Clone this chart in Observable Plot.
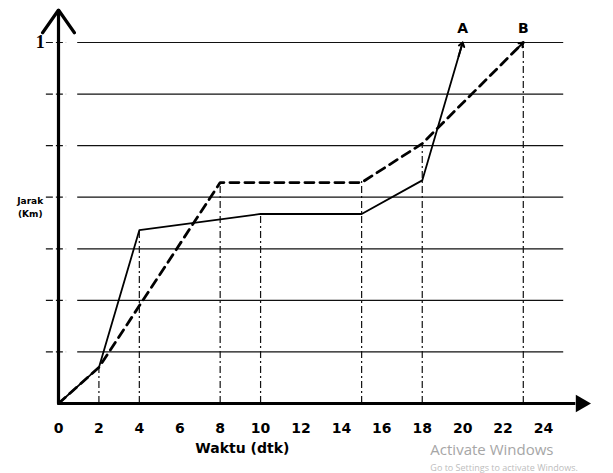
<!DOCTYPE html>
<html>
<head>
<meta charset="utf-8">
<script src="https://cdn.jsdelivr.net/npm/d3@7"></script>
<script src="https://cdn.jsdelivr.net/npm/@observablehq/plot@0.6"></script>
<style>
  html, body { margin: 0; padding: 0; background: white; }
</style>
</head>
<body>
<div id="chart"></div>
<script>
// Data
const xTicks = [0, 2, 4, 6, 8, 10, 12, 14, 16, 18, 20, 22, 24];
const gridLevels = [1/7, 2/7, 3/7, 4/7, 5/7, 6/7, 1];

const timeA = [0, 2, 4, 10, 15, 18, 20];
const distA = [0, 0.10, 0.48, 0.525, 0.525, 0.618, 1];

const timeB = [0, 2, 8, 15, 18, 23];
const distB = [0, 0.10, 0.612, 0.612, 0.72, 1];

const guideTimes = [2, 4, 8, 10, 15, 18, 23];
const guideTops = [0.10, 0.48, 0.612, 0.525, 0.618, 0.72, 1];

const seriesLabels = ["A", "B"];
const yLabel = "1";

const A = timeA.map((t, i) => ({t, d: distA[i]}));
const B = timeB.map((t, i) => ({t, d: distB[i]}));
const guides = guideTimes.map((t, i) => ({t, top: guideTops[i]}));

// arrow heads on last segments
function headOf(series) {
  const p = series[series.length - 2], q = series[series.length - 1];
  const f = 0.9;
  return {x1: p.t + (q.t - p.t) * f, y1: p.d + (q.d - p.d) * f, x2: q.t, y2: q.d};
}
const heads = [headOf(A), headOf(B)];
const ends = [A[A.length - 1], B[B.length - 1]].map((p, i) => ({t: p.t, d: p.d, label: seriesLabels[i]}));

const font = "'DejaVu Sans', Verdana, sans-serif";

const chart = Plot.plot({
  width: 613,
  height: 473,
  marginLeft: 58,
  marginRight: 70,
  marginTop: 42,
  marginBottom: 70,
  x: {domain: [0, 24], axis: null},
  y: {domain: [0, 1], axis: null},
  style: {background: "white", overflow: "visible", fontFamily: font},
  marks: [
    // horizontal grid lines
    Plot.ruleY(gridLevels, {x1: 0.95, x2: 25, stroke: "#111", strokeWidth: 1.2}),
    // y tick marks across the axis
    Plot.ruleY(gridLevels, {x1: -0.6, x2: 0.4, stroke: "#111", strokeWidth: 1.2, strokeDasharray: "7,3"}),
    // vertical guide lines
    Plot.ruleX(guides, {x: "t", y1: 0, y2: "top", stroke: "#111", strokeWidth: 1.2, strokeDasharray: "7,3,2,3"}),
    // series A (solid)
    Plot.line(A, {x: "t", y: "d", stroke: "black", strokeWidth: 1.8}),
    // series B (dashed)
    Plot.line(B, {x: "t", y: "d", stroke: "black", strokeWidth: 2.8, strokeDasharray: "9,6"}),
    // arrow heads
    Plot.arrow(heads, {x1: "x1", y1: "y1", x2: "x2", y2: "y2", stroke: "black", strokeWidth: 2, headLength: 12, headAngle: 70}),
    // series labels
    Plot.text(ends, {x: "t", y: "d", text: "label", dy: -14, fontSize: 14, fontWeight: "bold", fill: "black"}),
    // axes
    Plot.arrow([0], {x1: 0, y1: 0, x2: 0, y2: 1.09, stroke: "black", strokeWidth: 3.2, headLength: 13, headAngle: 70}),
    Plot.ruleY([0], {x1: 0, x2: 25.6, stroke: "black", strokeWidth: 3.2}),
    Plot.dot([0], {x: 25.85, y: 0, symbol: "triangle", r: 6.5, fill: "black", stroke: "none", rotate: 90}),
    // x tick labels
    Plot.text(xTicks, {x: d => d, y: 0, dy: 25, text: d => String(d), fontSize: 14, fontWeight: "bold", fill: "black"}),
    // x axis title
    Plot.text(["Waktu (dtk)"], {x: 9.1, y: 0, dy: 45, text: d => d, fontSize: 14, fontWeight: "bold", fill: "black"}),
    // y labels
    Plot.text([yLabel], {x: -0.9, y: 1, text: d => d, fontSize: 18, fontWeight: "bold", fontFamily: "'Liberation Serif', serif", fill: "black"}),
    Plot.text(["Jarak\n(Km)"], {x: -1.4, y: 0.545, text: d => d, fontSize: 9, fontWeight: "bold", lineHeight: 1.4, fill: "black"}),
    // watermark
    Plot.text(["Activate Windows"], {x: 18.4, y: 0, dy: 47, text: d => d, textAnchor: "start", fontSize: 15, fontFamily: "'Open Sans', sans-serif", fill: "#a6a6a6"}),
    Plot.text(["Go to Settings to activate Windows."], {x: 18.4, y: 0, dy: 65, text: d => d, textAnchor: "start", fontSize: 9, fontFamily: "'Open Sans', sans-serif", fill: "#bdbdbd"})
  ]
});
document.getElementById("chart").appendChild(chart);
</script>
</body>
</html>
